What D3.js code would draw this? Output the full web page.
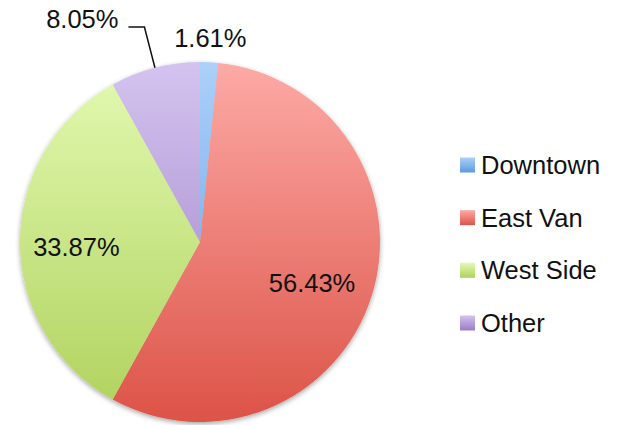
<!DOCTYPE html>
<html><head><meta charset="utf-8">
<script src="https://cdn.jsdelivr.net/npm/d3@7"></script>
<style>body{margin:0;background:#fff}svg{display:block}text{font-family:"Liberation Sans",Helvetica,Arial,sans-serif;fill:#111}</style>
</head><body>
<script>
const categories = ["Downtown", "East Van", "West Side", "Other"];
const values = [1.61, 56.43, 33.87, 8.05];
const labels = ["1.61%", "56.43%", "33.87%", "8.05%"];
const topColors = ["#acd0fa", "#fdaaa6", "#e3fab2", "#d4c3ef"];
const bottomColors = ["#5b9be0", "#dc5347", "#afd15c", "#9a7cc4"];

const W = 618, H = 425, cx = 200, cy = 242, R = 180, FS = 25.5;
const svg = d3.select("body").append("svg").attr("width", W).attr("height", H);
const defs = svg.append("defs");
const f = defs.append("filter").attr("id", "sh").attr("x", "-10%").attr("y", "-10%").attr("width", "120%").attr("height", "120%");
f.append("feDropShadow").attr("dx", 0).attr("dy", 2).attr("stdDeviation", 2.5).attr("flood-color", "#000").attr("flood-opacity", 0.35);

categories.forEach((c, i) => {
  const g = defs.append("linearGradient").attr("id", "g" + i).attr("gradientUnits", "userSpaceOnUse")
    .attr("x1", 0).attr("y1", -R).attr("x2", 0).attr("y2", R);
  g.append("stop").attr("offset", 0).attr("stop-color", topColors[i]);
  g.append("stop").attr("offset", 1).attr("stop-color", bottomColors[i]);
});

const pie = d3.pie().sort(null).value(d => d)(values);
const arc = d3.arc().innerRadius(0).outerRadius(R);
const g = svg.append("g").attr("transform", `translate(${cx},${cy})`);
g.append("g").attr("filter", "url(#sh)").selectAll("path").data(pie).join("path")
  .attr("d", arc).attr("fill", (d, i) => `url(#g${i})`);

const mid = d => (d.startAngle + d.endAngle) / 2;
const pt = (a, r) => [Math.sin(a) * r, -Math.cos(a) * r];

[1, 2].forEach(i => {
  const [x, y] = pt(mid(pie[i]), R * 0.67);
  g.append("text").attr("x", x - 3).attr("y", y + 5).attr("text-anchor", "middle").attr("dominant-baseline", "central")
    .attr("font-size", FS).text(labels[i]);
});
{
  const [x, y] = pt(mid(pie[0]), R + 24);
  g.append("text").attr("x", x).attr("y", y).attr("text-anchor", "middle").attr("dominant-baseline", "central")
    .attr("font-size", FS).text(labels[0]);
}
{
  const a = mid(pie[3]);
  const p1 = pt(a, R), p2 = pt(a, R + 42);
  const p3 = [p2[0] - 16, p2[1]];
  g.append("path").attr("d", d3.line()([p1, p2, p3])).attr("fill", "none").attr("stroke", "#111").attr("stroke-width", 1.5);
  g.append("text").attr("x", p3[0] - 10).attr("y", p3[1] + 1).attr("text-anchor", "end")
    .attr("font-size", FS).text(labels[3]);
}

const ly = d3.scalePoint().domain(categories).range([165, 323]);
const lg = svg.append("g").selectAll("g").data(categories).join("g")
  .attr("transform", d => `translate(460,${ly(d)})`);
lg.append("rect").attr("x", 0).attr("y", -7.5).attr("width", 15).attr("height", 15)
  .attr("fill", (d, i) => {
    const id = "lg" + i;
    const gg = defs.append("linearGradient").attr("id", id).attr("x1", 0).attr("y1", 0).attr("x2", 0).attr("y2", 1);
    gg.append("stop").attr("offset", 0).attr("stop-color", topColors[i]);
    gg.append("stop").attr("offset", 1).attr("stop-color", bottomColors[i]);
    return `url(#${id})`; });
lg.append("text").attr("x", 21).attr("y", 0).attr("dominant-baseline", "central").attr("font-size", FS).text(d => d);
</script>
</body></html>
